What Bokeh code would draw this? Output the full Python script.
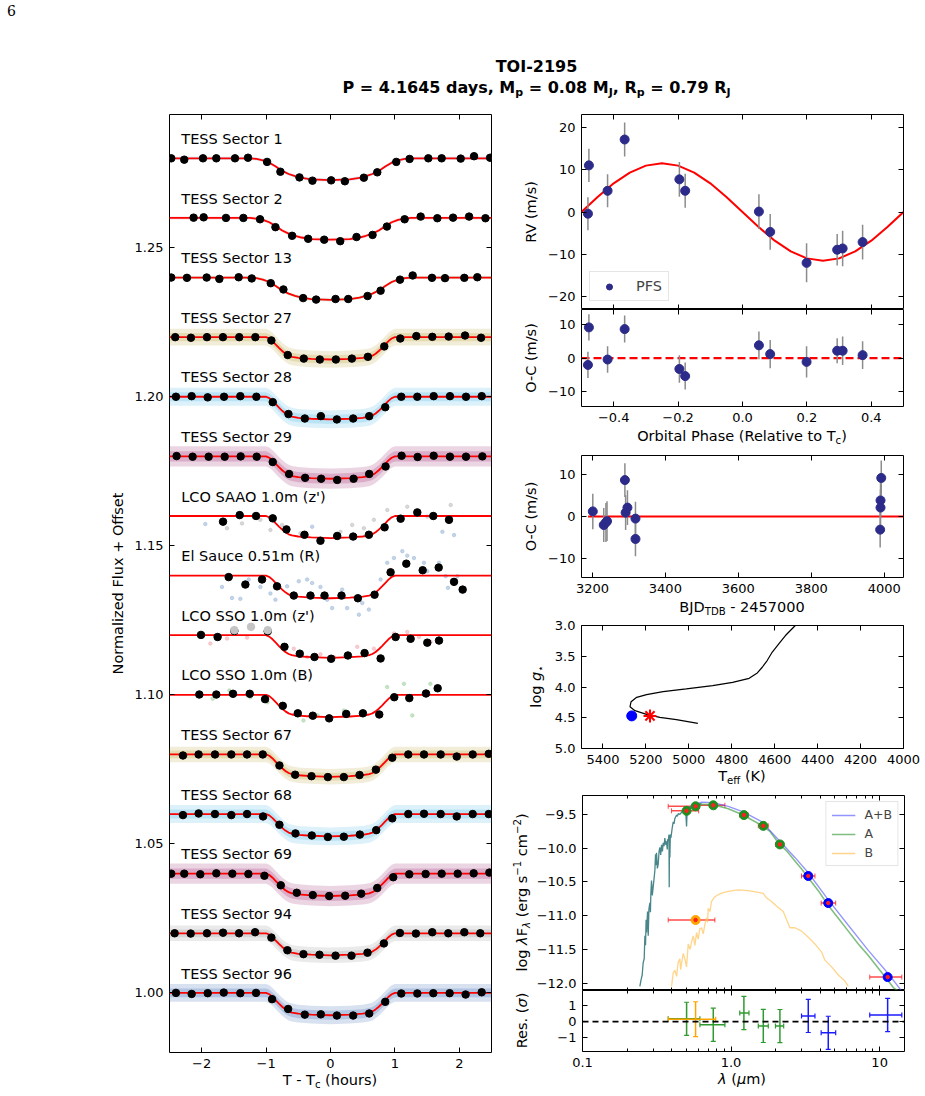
import numpy as np
from bokeh.plotting import figure
from bokeh.models import (Range1d, FixedTicker, LinearAxis, LogAxis, ColumnDataSource,
                          Legend, LegendItem, Whisker, TeeHead, Div)
from bokeh.layouts import column, row
from bokeh.core.properties import value
from bokeh.embed import file_html
from bokeh.resources import INLINE

FONT = "DejaVu Sans"
TICK_FS = "13px"
LAB_FS = 14.5

# ---------------------------------------------------------------- header text
planet_name = "TOI-2195"
period_days = "4.1645"
mass_mj = "0.08"
radius_rj = "0.79"
page_number = "6"

# ---------------------------------------------------------------- transit light curves
# binned points: hours from mid-transit, flux deviation in ppt
s01_t = [-2.473, -2.271, -1.980, -1.773, -1.483, -1.281, -0.985, -0.778, -0.482, -0.280, 0.010,
         0.223, 0.518, 0.726, 1.021, 1.228, 1.519, 1.726, 2.022, 2.229, 2.478]
s01_ppt = [0.0, -0.45, 0.0, 0.0, 0.0, 0.2, -1.2, -4.5, -6.4, -7.5, -7.4, -7.7, -6.5, -4.7, -1.2,
           -0.2, 0.0, 0.0, -0.1, 0.7, 0.2]
s02_t = [-2.126, -1.970, -1.623, -1.353, -1.094, -0.855, -0.596, -0.347, -0.098, 0.151, 0.404,
         0.653, 0.876, 1.151, 1.400, 1.659, 1.903, 2.152, 2.406]
s02_ppt = [0.1, 0.2, 0.0, 0.0, -0.45, -3.1, -6.0, -7.0, -7.3, -7.8, -6.4, -5.7, -2.9, -0.45, 0.45,
           -0.1, 0.1, 0.45, -0.1]
s13_t = [-2.473, -2.229, -1.923, -1.726, -1.426, -1.223, -0.928, -0.731, -0.425, -0.223, 0.078,
         0.275, 0.576, 0.778, 1.079, 1.276, 1.576, 1.778, 2.078, 2.280]
s13_ppt = [0.0, -0.1, 0.0, -0.45, 0.1, -0.3, -1.9, -4.0, -6.9, -7.4, -7.2, -7.2, -6.2, -4.4, -0.7,
           0.7, -0.1, -0.2, -0.1, 0.1]
s27_t = [-2.411, -2.167, -1.918, -1.670, -1.417, -1.167, -0.918, -0.664, -0.415, -0.166, 0.083,
         0.332, 0.581, 0.835, 1.084, 1.333, 1.581, 1.835, 2.089, 2.338]
s27_ppt = [0.0, -0.2, 0.0, 0.0, 0.0, 0.0, -1.1, -6.0, -7.2, -7.5, -7.5, -7.2, -6.6, -3.1, -0.45,
           0.35, 0.1, 0.2, 0.55, -0.2]
s28_t = [-2.400, -2.156, -1.907, -1.653, -1.400, -1.151, -0.897, -0.653, -0.399, -0.150, 0.099,
         0.352, 0.601, 0.850, 1.099, 1.348, 1.602, 1.855, 2.104, 2.348]
s28_ppt = [0.0, 0.2, -0.2, 0.0, 0.2, 0.0, -1.8, -5.8, -7.3, -6.5, -7.6, -7.3, -6.5, -3.5, 0.0,
           0.0, 0.2, 0.2, 0.0, 0.2]
s29_t = [-2.390, -2.141, -1.892, -1.643, -1.395, -1.146, -0.897, -0.643, -0.394, -0.145, 0.104,
         0.358, 0.601, 0.855, 1.104, 1.353, 1.602, 1.855, 2.104, 2.358]
s29_ppt = [0.1, -0.1, -0.1, -0.1, 0.0, -0.1, -1.9, -5.9, -7.2, -7.5, -7.9, -7.5, -5.9, -3.4, 0.2,
           -0.2, 0.2, -0.1, -0.1, 0.0]
saao_t = [-1.669, -1.410, -1.156, -0.897, -0.684, -0.404, -0.156, 0.104, 0.352, 0.596, 0.840,
          1.089, 1.348, 1.596, 1.840]
saao_ppt = [-1.9, 0.3, 0.0, -0.8, -4.5, -6.3, -8.3, -6.7, -6.9, -6.3, -3.8, -0.9, 1.2, 0.0, -1.3]
elsauce_t = [-1.581, -1.322, -1.063, -0.830, -0.570, -0.311, -0.093, 0.171, 0.425, 0.684, 0.933,
             1.177, 1.431, 1.680, 1.918, 2.052]
elsauce_ppt = [-0.5, -3.0, -1.3, -3.6, -6.7, -6.7, -6.7, -6.7, -7.6, -6.4, 1.1, 4.0, 1.8, 2.7,
               -2.1, -4.7]
ssoz_t = [-2.011, -1.753, -1.493, -0.975, -0.715, -0.477, -0.249, 0.010, 0.270, 0.529, 0.778,
          1.011, 1.244, 1.503, 1.685]
ssoz_ppt = [0.1, -0.6, 1.45, 1.3, -3.9, -6.2, -7.3, -7.9, -6.8, -6.0, -7.8, -0.6, -1.2, -2.5, -1.8]
ssoz_excl_t = [-1.493, -1.234, -0.975]
ssoz_excl_ppt = [1.7, 2.8, 1.7]
ssob_t = [-2.037, -1.773, -1.514, -1.254, -1.016, -0.741, -0.508, -0.275, -0.021, 0.244, 0.503,
          0.757, 0.990, 1.224, 1.483, 1.664]
ssob_ppt = [0.1, 0.1, 0.35, 0.35, -1.45, -3.7, -6.2, -7.0, -7.9, -6.4, -6.2, -6.6, -0.8, -1.1,
            0.45, 2.2]
s67_t = [-2.291, -2.048, -1.794, -1.540, -1.296, -1.052, -0.793, -0.549, -0.295, -0.041, 0.207,
         0.451, 0.705, 0.959, 1.208, 1.452, 1.711, 1.960, 2.208, 2.457]
s67_ppt = [-0.35, 0.0, 0.0, 0.0, 0.0, 0.0, -3.7, -6.8, -7.3, -7.6, -7.6, -6.9, -5.1, -1.1, 0.0,
           0.0, 0.0, -0.7, 0.0, 0.2]
s68_t = [-2.291, -2.048, -1.794, -1.540, -1.296, -1.047, -0.793, -0.544, -0.290, -0.041, 0.207,
         0.456, 0.710, 0.959, 1.208, 1.452, 1.711, 1.960, 2.208, 2.457]
s68_ppt = [-0.35, 0.2, 0.0, -0.35, 0.0, -0.8, -3.6, -6.5, -7.2, -7.7, -7.6, -6.9, -5.4, -1.45,
           0.0, 0.1, 0.0, -0.8, 0.0, 0.0]
s69_t = [-2.473, -2.271, -2.022, -1.773, -1.524, -1.275, -1.026, -0.772, -0.524, -0.275, -0.021,
         0.228, 0.477, 0.726, 0.974, 1.223, 1.477, 1.726, 1.975, 2.223, 2.467]
s69_ppt = [0.0, 0.0, -0.2, 0.1, 0.0, -0.1, -0.7, -3.9, -6.4, -7.2, -7.5, -7.4, -6.7, -4.8, -1.2,
           -0.2, -0.1, 0.0, 0.0, 0.1, 0.35]
s94_t = [-2.420, -2.171, -1.918, -1.669, -1.420, -1.171, -0.918, -0.669, -0.420, -0.171, 0.078,
         0.326, 0.575, 0.829, 1.078, 1.326, 1.580, 1.829, 2.078, 2.326]
s94_ppt = [0.0, -0.1, 0.0, 0.2, 0.0, 0.35, -1.45, -5.7, -7.0, -7.2, -7.5, -7.5, -6.5, -3.4, 0.1,
           -0.1, 0.35, 0.0, 0.35, 0.0]
s96_t = [-2.400, -2.156, -1.907, -1.658, -1.400, -1.156, -0.907, -0.658, -0.399, -0.150, 0.099,
         0.352, 0.601, 0.850, 1.099, 1.348, 1.596, 1.850, 2.098, 2.347]
s96_ppt = [0.0, -0.35, -0.1, 0.1, -0.1, 0.0, -2.1, -5.4, -7.3, -7.2, -7.6, -7.6, -6.9, -3.0,
           -0.2, -0.2, -0.1, -0.1, -0.55, 0.2]

# unbinned ground-based photometry (sparse)
saao_raw_gray_t = [-1.607, -1.374, -1.089, -0.933, -0.752, -0.467, 0.155, 0.337, 0.518, 0.674,
                   0.882, 1.192, 1.374, 1.503, 1.866]
saao_raw_gray_ppt = [-4.1, -2.5, -1.3, -4.7, -3.0, -5.8, -5.3, -3.0, -4.1, -1.3, 2.0, 3.1, 1.45,
                     -0.2, 3.7]
saao_raw_blue_t = [-1.944, -0.285, -0.156, 1.737, 1.918]
saao_raw_blue_ppt = [-2.7, -3.6, -8.1, -5.3, -6.4]
elsauce_raw_t = [-1.685, -1.529, -1.400, -1.270, -1.089, -0.933, -0.855, -0.674, -0.493, -0.363,
                 -0.285, -0.156, -0.052, 0.026, 0.181, 0.259, 0.441, 0.493, 0.596, 0.778, 0.881,
                 0.985, 1.115, 1.192, 1.296, 1.451, 1.503, 1.685, 1.789, 1.824, 1.970]
elsauce_raw_ppt = [-3.8, -7.5, -7.8, -1.3, -3.8, -6.0, -8.1, -3.6, -1.9, -1.3, -2.5, -3.8, -8.1,
                   -10.9, -4.7, -10.9, -13.1, -9.2, -11.4, -1.3, 4.3, 5.9, 8.2, 6.7, 5.9, 4.3,
                   1.5, 4.3, -0.2, -4.1, -0.2]
ssoz_raw_t = [-1.866, -1.607, -1.296, -0.570, -0.363, -0.156, 0.052, 0.259, 0.415, 0.674, 0.985,
              1.192, 1.374, 1.555]
ssoz_raw_ppt = [-2.8, -1.1, -0.8, -4.5, -7.3, -6.4, -7.3, -6.7, -3.9, -4.5, 0.6, 1.1, -0.6, -2.2]
ssob_raw_t = [-1.83, -1.57, -1.245, -0.98, -0.73, -0.42, -0.20, 0.21, 0.73, 0.88, 1.14, 1.27, 1.55]
ssob_raw_ppt = [-1.3, 1.45, -0.8, -2.5, -4.1, -8.6, -6.9, -5.3, -6.4, 2.6, 3.7, -6.9, 3.7]

# transit model shape (fraction of full depth) for 30-min and short cadence
model_long_t = [-2.5, -1.25, -1.15, -1.05, -0.95, -0.85, -0.75, -0.65, -0.55, -0.45, -0.3, 0.0,
                0.3, 0.45, 0.55, 0.65, 0.75, 0.85, 0.95, 1.05, 1.15, 1.25, 2.5]
model_long_frac = [0, 0, 0.03, 0.09, 0.2, 0.38, 0.58, 0.72, 0.82, 0.9, 0.97, 1.0, 0.97, 0.9, 0.82,
                   0.72, 0.58, 0.38, 0.2, 0.09, 0.03, 0, 0]
model_short_t = [-2.5, -1.0, -0.95, -0.9, -0.85, -0.8, -0.75, -0.7, -0.65, -0.6, -0.5, -0.3, 0.0,
                 0.3, 0.5, 0.6, 0.65, 0.7, 0.75, 0.8, 0.85, 0.9, 0.95, 1.0, 2.5]
model_short_frac = [0, 0, 0.06, 0.18, 0.33, 0.48, 0.62, 0.74, 0.83, 0.88, 0.93, 0.97, 1.0, 0.97,
                    0.93, 0.88, 0.83, 0.74, 0.62, 0.48, 0.33, 0.18, 0.06, 0, 0]

lc_names = ["TESS Sector 1", "TESS Sector 2", "TESS Sector 13", "TESS Sector 27",
            "TESS Sector 28", "TESS Sector 29", "LCO SAAO 1.0m (z')", "El Sauce 0.51m (R)",
            "LCO SSO 1.0m (z')", "LCO SSO 1.0m (B)", "TESS Sector 67", "TESS Sector 68",
            "TESS Sector 69", "TESS Sector 94", "TESS Sector 96"]
lc_offsets = [1.28, 1.26, 1.24, 1.22, 1.20, 1.18, 1.16, 1.14, 1.12, 1.10, 1.08, 1.06, 1.04, 1.02,
              1.00]
lc_depth_ppt = [7.3, 7.3, 7.5, 7.5, 7.6, 7.5, 7.4, 7.6, 7.6, 7.5, 7.5, 7.5, 7.5, 7.4, 7.5]
lc_binned_t = [s01_t, s02_t, s13_t, s27_t, s28_t, s29_t, saao_t, elsauce_t, ssoz_t, ssob_t,
               s67_t, s68_t, s69_t, s94_t, s96_t]
lc_binned_ppt = [s01_ppt, s02_ppt, s13_ppt, s27_ppt, s28_ppt, s29_ppt, saao_ppt, elsauce_ppt,
                 ssoz_ppt, ssob_ppt, s67_ppt, s68_ppt, s69_ppt, s94_ppt, s96_ppt]
lc_long_cadence = [True, True, True] + [False] * 12
lc_colors = ["#8fb8de", "#f2a0aa", "#97cc97", "#c8b45a", "#6cc6ec", "#b0508a", None, None, None,
             None, "#c8b45a", "#6cc6ec", "#b0508a", "#a8a8a8", "#5a82bf"]
lc_spread_ppt = [0.6, 0.6, 0.6, 2.8, 3.0, 3.4, 0, 0, 0, 0, 2.6, 3.0, 3.4, 2.6, 3.0]
lc_raw = {6: [(saao_raw_gray_t, saao_raw_gray_ppt, "#c4c4c4"),
              (saao_raw_blue_t, saao_raw_blue_ppt, "#a6bfdc")],
          7: [(elsauce_raw_t, elsauce_raw_ppt, "#a6bfdc")],
          8: [(ssoz_raw_t, ssoz_raw_ppt, "#f5b3ba")],
          9: [(ssob_raw_t, ssob_raw_ppt, "#a9d6a9")]}

# ---------------------------------------------------------------- radial velocities
rv_phase = [-0.480, -0.477, -0.419, -0.366, -0.196, -0.178, 0.051, 0.086, 0.199, 0.294, 0.311,
            0.373]
rv_val = [-0.4, 11.0, 5.0, 17.1, 7.7, 5.0, 0.1, -4.7, -12.0, -8.9, -8.6, -7.1]
rv_err = [3.9, 3.9, 3.9, 4.0, 4.1, 4.0, 4.1, 4.2, 4.6, 3.7, 4.2, 4.1]
rv_resid = [-2.0, 9.1, -0.4, 8.6, -3.2, -5.3, 3.8, 1.2, -1.1, 2.2, 2.2, 0.9]
rv_model_phase = [-0.5, -0.45, -0.4, -0.35, -0.3, -0.25, -0.2, -0.15, -0.1, -0.05, 0.0, 0.05, 0.1,
                  0.15, 0.2, 0.25, 0.3, 0.35, 0.4, 0.45, 0.5]
rv_model_val = [0.0, 3.55, 6.76, 9.30, 10.94, 11.5, 10.94, 9.30, 6.76, 3.55, 0.0, -3.55, -6.76,
                -9.30, -10.94, -11.5, -10.94, -9.30, -6.76, -3.55, 0.0]
oc_bjd = [3201, 3231, 3237, 3240, 3289, 3291, 3296, 3318, 3318, 3992, 3990, 3990, 3989]
oc_val = [1.2, -2.0, -1.4, -1.1, 8.6, 0.9, 2.1, -0.5, -5.3, 9.1, 3.8, 2.1, -3.1]
oc_err = [4.2, 4.0, 4.6, 4.7, 4.0, 4.1, 4.1, 4.0, 4.1, 4.1, 4.2, 4.3, 4.2]
oc_zero_span = [3188, 4060]

# ---------------------------------------------------------------- HR diagram
track_teff = [4958, 5058, 5135, 5197, 5251, 5274, 5269, 5243, 5197, 5120, 5012, 4889, 4796, 4719,
              4681, 4658, 4635, 4612, 4581, 4550, 4504, 4480]
track_logg = [4.592, 4.53, 4.494, 4.445, 4.385, 4.320, 4.239, 4.168, 4.125, 4.076, 4.032, 3.978,
              3.924, 3.859, 3.771, 3.679, 3.570, 3.435, 3.299, 3.163, 3.0, 2.88]
star_teff, star_logg = [5266], [4.47]
model_teff, model_logg = [5181], [4.47]

# ---------------------------------------------------------------- SED
sed_uv_lam = [0.2432, 0.2480, 0.2522, 0.2560, 0.2602, 0.2630, 0.2656, 0.2680, 0.2698, 0.2741,
              0.2769, 0.2800, 0.2841, 0.2865, 0.2885, 0.2915, 0.2950, 0.2992, 0.3039, 0.3070,
              0.3102, 0.3130, 0.3150, 0.3190, 0.3233, 0.3275, 0.3318, 0.3360, 0.3404, 0.3450,
              0.3493, 0.3540, 0.3584, 0.3630, 0.3679, 0.3720, 0.3740, 0.3775, 0.3820, 0.3834,
              0.3850, 0.3875, 0.3900, 0.3935, 0.4017, 0.4079, 0.4130, 0.4186, 0.4295, 0.4350,
              0.4408, 0.4523, 0.4642, 0.4764, 0.4888, 0.4950, 0.5016, 0.5068, 0.5282, 0.5564,
              0.5856, 0.6329]
sed_uv_logf = [-12.05, -11.95, -11.88, -11.70, -11.64, -11.30, -11.44, -11.06, -11.25, -10.94,
               -11.30, -10.90, -10.81, -10.95, -10.67, -10.48, -10.70, -10.57, -10.43, -10.33,
               -10.09, -10.25, -10.07, -10.30, -10.24, -10.05, -9.99, -10.10, -9.95, -10.05,
               -9.92, -9.97, -9.85, -9.95, -9.90, -10.02, -9.87, -9.90, -9.80, -10.58,
               -9.82, -10.14, -9.80, -9.85, -9.70, -9.61, -9.64, -9.56, -9.51, -9.53,
               -9.49, -9.50, -9.47, -9.44, -9.42, -9.44, -9.68, -9.42, -9.41, -9.38,
               -9.36, -9.34]
sed_a_lam = [0.5016, 0.5564, 0.6329, 0.7583, 0.957, 1.208, 1.374, 1.605, 1.826, 2.078, 2.364,
             2.690, 2.984, 3.308, 3.864, 4.512, 5.270, 6.152, 7.184, 8.389, 9.795, 11.44, 12.4,
             14.1]
sed_a_logf = [-9.42, -9.39, -9.35, -9.355, -9.415, -9.51, -9.58, -9.66, -9.75, -9.92, -10.04,
              -10.19, -10.31, -10.44, -10.63, -10.85, -11.04, -11.23, -11.42, -11.59, -11.78,
              -11.97, -12.07, -12.15]
sed_ab_lam = [0.5148, 0.6329, 0.7583, 0.957, 1.208, 1.605, 2.078, 2.690, 3.308, 4.512, 6.152,
              8.389, 11.44, 14.07]
sed_ab_logf = [-9.398, -9.317, -9.327, -9.38, -9.462, -9.607, -9.872, -10.138, -10.365, -10.766,
               -11.143, -11.515, -11.862, -12.118]
sed_b_lam = [0.3975, 0.4080, 0.4186, 0.4300, 0.4400, 0.4523, 0.4580, 0.4642, 0.4764, 0.4900,
             0.5016, 0.5148, 0.5300, 0.5420, 0.5564, 0.5708, 0.5856, 0.6011, 0.6150, 0.6329,
             0.6494, 0.6664, 0.6839, 0.6950, 0.7018, 0.7202, 0.7390, 0.7782, 0.8196, 0.8858,
             0.9570, 1.1176, 1.3050, 1.5241, 1.6467, 1.7340, 1.8740, 2.0253, 2.2453, 2.4894,
             2.6906, 2.9836, 3.3082, 3.6682, 4.0673, 4.2824, 4.7521, 5.2696, 5.8415, 6.1518]
sed_b_logf = [-12.05, -11.85, -11.81, -11.90, -11.70, -11.64, -11.80, -11.71, -11.56, -11.65,
              -11.76, -11.42, -11.50, -11.39, -11.30, -11.44, -11.25, -11.35, -11.20, -11.18,
              -11.27, -11.13, -11.03, -11.10, -10.89, -10.94, -10.79, -10.72, -10.69, -10.66,
              -10.64, -10.62, -10.63, -10.655, -10.67, -10.74, -10.79, -10.86, -10.94, -11.18,
              -11.18, -11.23, -11.32, -11.42, -11.54, -11.66, -11.76, -11.88, -11.97, -12.05]
phot_lam = [0.502, 0.577, 0.759, 1.220, 1.648, 2.132, 3.308, 4.510, 11.32]
phot_logf = [-9.447, -9.380, -9.365, -9.510, -9.670, -9.945, -10.413, -10.814, -11.911]
phot_lo = [0.3975, 0.3775, 0.605, 1.144, 1.525, 1.99, 2.98, 4.04, 8.58]
phot_hi = [0.605, 0.605, 0.909, 1.306, 1.780, 2.26, 3.67, 5.06, 14.1]
phot_band_kind = ["opt", "opt", "opt", "nir", "nir", "nir", "wise", "wise", "wise"]
photb_lam, photb_logf, photb_lo, photb_hi = [0.577], [-11.065], [0.3775], [0.778]
res_lam = [0.502, 0.759, 1.220, 1.648, 2.132, 3.308, 4.510, 11.32]
res_val = [0.17, -0.20, 0.53, -0.27, -0.28, 0.35, -0.70, 0.41]
res_lo = [0.3775, 0.617, 1.144, 1.525, 1.99, 2.98, 4.04, 8.58]
res_hi = [0.617, 0.909, 1.32, 1.78, 2.26, 3.67, 5.06, 14.1]
res_err = [1.03, 1.03, 1.03, 1.03, 1.03, 1.03, 1.03, 1.03]
res_kind = ["opt", "opt", "nir", "nir", "nir", "wise", "wise", "wise"]
resb_lam, resb_val, resb_lo, resb_hi, resb_err = [0.577], [0.15], [0.3775], [0.788], [1.08]

# ---------------------------------------------------------------- helpers
SUB = '<sub style="font-size:70%;vertical-align:-3px;line-height:0;">{}</sub>'
SUP = '<sup style="font-size:70%;vertical-align:6px;line-height:0;">{}</sup>'
TEXT_CSS = (f"font-family:'{FONT}';font-size:{LAB_FS}px;line-height:{LAB_FS}px;"
            "color:black;white-space:nowrap;")
BASE = 0.85 * LAB_FS   # baseline offset below the top of a one-line box


def caption(width, height, html, cx, baseline):
    """Horizontal axis caption centred on cx, baseline `baseline` px below the top."""
    inner = (f'<div style="position:absolute;left:{cx - 170:.1f}px;top:{baseline - BASE:.1f}px;'
             f'width:340px;text-align:center;{TEXT_CSS}">{html}</div>')
    return Div(text=f'<div style="position:relative;width:{width}px;height:{height}px;">'
                    f'{inner}</div>', width=width, height=height, margin=(0, 0, 0, 0))


def vcaption(width, height, items):
    """Rotated (bottom-to-top) captions: (html, baseline x, centre y from top)."""
    blocks = []
    for html, bx, cy in items:
        span = 2 * min(cy, height - cy)
        blocks.append(
            f'<div style="position:absolute;left:{bx - BASE:.1f}px;top:{cy + span / 2:.1f}px;'
            f'width:{span:.1f}px;height:{LAB_FS}px;text-align:center;transform-origin:0 0;'
            f'transform:rotate(-90deg);{TEXT_CSS}">{html}</div>')
    return Div(text=f'<div style="position:relative;width:{width}px;height:{height}px;">'
                    + "".join(blocks) + '</div>', width=width, height=height,
               margin=(0, 0, 0, 0))


def style_axis(ax, ticks, labels, show, minor=None):
    ax.ticker = FixedTicker(ticks=list(ticks), minor_ticks=list(minor or []))
    ax.axis_line_color = None
    ax.major_tick_in = 5
    ax.major_tick_out = 0
    ax.major_tick_line_color = "black"
    ax.major_tick_line_width = 1
    ax.minor_tick_in = 3 if minor else 0
    ax.minor_tick_out = 0
    ax.minor_tick_line_color = "black"
    ax.major_label_text_font = FONT
    if show:
        ax.major_label_overrides = {t: s for t, s in zip(ticks, labels)}
        ax.major_label_text_font_size = TICK_FS
        ax.major_label_text_color = "black"
        ax.major_label_standoff = 6
    else:
        ax.major_label_text_font_size = "0px"
        ax.major_label_text_color = None
        ax.major_label_standoff = 0
    ax.axis_label_text_font = FONT
    ax.axis_label_text_font_style = "normal"
    ax.axis_label_text_font_size = f"{LAB_FS}px"
    ax.axis_label_text_color = "black"
    ax.axis_label_standoff = 6


def boxed(p, xt, xl, yt, yl, show_x=True, show_y=True, x_minor=None, log_x=False, ylabel=None):
    bottom, left_ax = p.below[0], p.left[0]
    top = LogAxis() if log_x else LinearAxis()
    right_ax = LinearAxis()
    p.add_layout(top, "above")
    p.add_layout(right_ax, "right")
    style_axis(bottom, xt, xl, show_x, x_minor)
    style_axis(top, xt, xl, False, x_minor)
    style_axis(left_ax, yt, yl, show_y)
    style_axis(right_ax, yt, yl, False)
    if ylabel:
        left_ax.axis_label = ylabel


def panel(fw, fh, left, right, top, bottom, xr, yr, log_x=False):
    p = figure(frame_width=fw, frame_height=fh, min_border_left=left, min_border_right=right,
               min_border_top=top, min_border_bottom=bottom, x_range=xr, y_range=yr,
               x_axis_type="log" if log_x else "linear", toolbar_location=None,
               output_backend="svg")
    p.grid.visible = False
    p.outline_line_color = "black"
    p.outline_line_width = 1
    p.background_fill_color = "white"
    p.border_fill_color = "white"
    return p


def minus(s):
    return s.replace("-", "\u2212")


# ---------------------------------------------------------------- left: light curves
lc = panel(322, 938, 169, 2, 10, 22, Range1d(-2.5, 2.5), Range1d(0.98, 1.2947))
lc_xt = [-2, -1, 0, 1, 2]
lc_yt = [1.00, 1.05, 1.10, 1.15, 1.20, 1.25]
boxed(lc, lc_xt, [minus(str(v)) for v in lc_xt], lc_yt, [f"{v:.2f}" for v in lc_yt],
      ylabel="Normalized Flux + Offset")

for i, name in enumerate(lc_names):
    off = lc_offsets[i]
    mt = model_long_t if lc_long_cadence[i] else model_short_t
    mf = np.array(model_long_frac if lc_long_cadence[i] else model_short_frac)
    model = off - lc_depth_ppt[i] * mf / 1000.0
    col = lc_colors[i]
    if col is not None:
        w = lc_spread_ppt[i] / 1000.0
        lc.varea(x=mt, y1=model - w, y2=model + w, fill_color=col, fill_alpha=0.24)
        lc.varea(x=mt, y1=model - 0.5 * w, y2=model + 0.5 * w, fill_color=col, fill_alpha=0.3)
    for rt, rp, rc in lc_raw.get(i, []):
        lc.scatter(rt, off + np.array(rp) / 1000.0, size=3.5, color=rc, alpha=0.65)
    lc.line(mt, model, line_color="red", line_width=1.8)
    lc.scatter(lc_binned_t[i], off + np.array(lc_binned_ppt[i]) / 1000.0, size=7.5,
               color="black")
    if i == 8:
        lc.scatter(ssoz_excl_t, off + np.array(ssoz_excl_ppt) / 1000.0, size=7.5,
                   color="#c4c4c4")

lc.text(x=[-2.317] * len(lc_names), y=[o + 0.0065 for o in lc_offsets], text=lc_names,
        text_font=value(FONT), text_font_size="14.5px", text_baseline="middle",
        text_align="left", text_color="black")
lc_cap = caption(493, 22, "T - T" + SUB.format("c") + " (hours)", 330, 11)

# ---------------------------------------------------------------- RV vs phase
RV_POINT = "#2c2b89"
ERR_GREY = "#8c8c8c"
ph_xt = [-0.4, -0.2, 0.0, 0.2, 0.4]
ph_xl = ["\u22120.4", "\u22120.2", "0.0", "0.2", "0.4"]

rv = panel(322, 195, 88, 22, 10, 0, Range1d(-0.5, 0.5), Range1d(-23, 23))
rv_yt = [-20, -10, 0, 10, 20]
boxed(rv, ph_xt, ph_xl, rv_yt, [minus(str(v)) for v in rv_yt], show_x=False, ylabel="RV (m/s)")
rv_src = ColumnDataSource(dict(x=rv_phase, y=rv_val,
                               lo=[v - e for v, e in zip(rv_val, rv_err)],
                               hi=[v + e for v, e in zip(rv_val, rv_err)]))
rv.line(rv_model_phase, rv_model_val, line_color="red", line_width=2)
rv.segment(x0="x", y0="lo", x1="x", y1="hi", source=rv_src, line_color=ERR_GREY, line_width=1.5)
rv_pts = rv.scatter("x", "y", source=rv_src, size=9, color=RV_POINT)
rv_leg = Legend(items=[LegendItem(label="PFS", renderers=[rv_pts])], location="bottom_left",
                label_text_font=FONT, label_text_font_size="14.5px", border_line_color="#cccccc",
                border_line_width=1, background_fill_alpha=0.8, padding=6, margin=8,
                glyph_width=26, glyph_height=15, label_height=15, label_standoff=14)
rv.add_layout(rv_leg)

# ---------------------------------------------------------------- O-C vs phase
oc = panel(322, 97, 88, 22, 0, 22, Range1d(-0.5, 0.5), Range1d(-14.3, 14.4))
oc_yt = [-10, 0, 10]
boxed(oc, ph_xt, ph_xl, oc_yt, [minus(str(v)) for v in oc_yt], ylabel="O-C (m/s)")
oc_src = ColumnDataSource(dict(x=rv_phase, y=rv_resid,
                               lo=[v - e for v, e in zip(rv_resid, rv_err)],
                               hi=[v + e for v, e in zip(rv_resid, rv_err)]))
oc.line([-0.5, 0.5], [0, 0], line_color="red", line_width=2.2, line_dash="8 4")
oc.segment(x0="x", y0="lo", x1="x", y1="hi", source=oc_src, line_color=ERR_GREY, line_width=1.5)
oc.scatter("x", "y", source=oc_src, size=9, color=RV_POINT)
oc_cap = caption(432, 18, "Orbital Phase (Relative to T" + SUB.format("c") + ")", 249, 13)

# ---------------------------------------------------------------- O-C vs time
ot = panel(322, 122, 88, 22, 9, 20, Range1d(3170, 4053), Range1d(-14.4, 14.4))
ot_xt = [3200, 3400, 3600, 3800, 4000]
boxed(ot, ot_xt, [str(v) for v in ot_xt], oc_yt, [minus(str(v)) for v in oc_yt],
      ylabel="O-C (m/s)")
ot_src = ColumnDataSource(dict(x=oc_bjd, y=oc_val,
                               lo=[v - e for v, e in zip(oc_val, oc_err)],
                               hi=[v + e for v, e in zip(oc_val, oc_err)]))
ot.line(oc_zero_span, [0, 0], line_color="red", line_width=2.2)
ot.segment(x0="x", y0="lo", x1="x", y1="hi", source=ot_src, line_color=ERR_GREY, line_width=1.5)
ot.scatter("x", "y", source=ot_src, size=9, color=RV_POINT)
ot_cap = caption(432, 20, "BJD" + SUB.format("TDB") + " - 2457000", 249, 15)

# ---------------------------------------------------------------- HR diagram
hr = panel(322, 123, 34, 22, 8, 22, Range1d(5500, 4000), Range1d(5.0, 3.0))
hr_xt = [5400, 5200, 5000, 4800, 4600, 4400, 4200, 4000]
hr_yt = [3.0, 3.5, 4.0, 4.5, 5.0]
boxed(hr, hr_xt, [str(v) for v in hr_xt], hr_yt, [f"{v:.1f}" for v in hr_yt])
hr.line(track_teff, track_logg, line_color="black", line_width=1.2)
hr.scatter(star_teff, star_logg, size=10, color="#0000ff")
hr.scatter(model_teff, model_logg, marker="asterisk", size=13, line_color="red", line_width=2)
hr.scatter(model_teff, model_logg, marker="cross", size=9, line_color="red", line_width=1.5)
hr_cap = caption(378, 15, "T" + SUB.format("eff") + " (K)", 195, 11)
hr_ycap = vcaption(54, 168, [("log <i>g</i>" + SUB.format("\u22c6"), 48.5, 69.5)])

# ---------------------------------------------------------------- SED
LAM_RANGE = (0.1, 14.7)
lam_xt = [0.1, 1, 10]
lam_xl = ["0.1", "1.0", "10"]
lam_minor = [0.2, 0.3, 0.4, 0.5, 0.6, 0.7, 0.8, 0.9, 2, 3, 4, 5, 6, 7, 8, 9]
KIND_COLOR = {"opt": "#1f8f1f", "nir": "#1f8f1f", "wise": "#0000ff"}
RES_COLOR = {"opt": "#2f9a2f", "nir": "#2f9a2f", "wise": "#1a1aff"}

# a little headroom below -12.0 keeps its tick label inside the canvas
sed = panel(322, 195, 48, 22, 10, 0, Range1d(*LAM_RANGE), Range1d(-12.11, -9.22), log_x=True)
sed_yt = [-12.0, -11.5, -11.0, -10.5, -10.0, -9.5]
boxed(sed, lam_xt, lam_xl, sed_yt, [minus(f"{v:.1f}") for v in sed_yt], show_x=False,
      x_minor=lam_minor, log_x=True)
r_b = sed.line(sed_b_lam, sed_b_logf, line_color="#ffc35a", line_alpha=0.7, line_width=1.3)
sed.line(sed_uv_lam, sed_uv_logf, line_color="#3e7f84", line_width=1.3, line_alpha=0.95)
r_a = sed.line(sed_a_lam, sed_a_logf, line_color="#3c9d3c", line_alpha=0.65, line_width=1.6)
r_ab = sed.line(sed_ab_lam, sed_ab_logf, line_color="#4d4dff", line_alpha=0.6, line_width=1.3)
sed.scatter(phot_lam, phot_logf, size=9, color=[KIND_COLOR[k] for k in phot_band_kind])
sed.scatter(photb_lam, photb_logf, size=9, color="#ffa500")
ph_src = ColumnDataSource(dict(x=phot_lam + photb_lam, y=phot_logf + photb_logf,
                               lo=phot_lo + photb_lo, hi=phot_hi + photb_hi))
sed.add_layout(Whisker(source=ph_src, base="y", lower="lo", upper="hi", dimension="width",
                       line_color="#ff2020", line_alpha=0.8, line_width=1.5,
                       upper_head=TeeHead(size=5, line_color="#ff2020", line_alpha=0.8),
                       lower_head=TeeHead(size=5, line_color="#ff2020", line_alpha=0.8)))
sed.scatter(phot_lam + photb_lam, phot_logf + photb_logf, size=3.5, color="#ff2020")
sed_leg = Legend(items=[LegendItem(label="A+B", renderers=[r_ab]),
                        LegendItem(label="A", renderers=[r_a]),
                        LegendItem(label="B", renderers=[r_b])],
                 location="top_right", label_text_font=FONT, label_text_font_size="12.5px",
                 border_line_color="#cccccc", border_line_width=1, background_fill_alpha=0.8,
                 padding=5, margin=6, spacing=4, glyph_width=24, glyph_height=14,
                 label_height=14, label_standoff=9)
sed.add_layout(sed_leg)

# ---------------------------------------------------------------- SED residuals
res = panel(322, 61, 48, 22, 0, 22, Range1d(*LAM_RANGE), Range1d(-1.86, 1.93), log_x=True)
res_yt = [-1, 0, 1]
boxed(res, lam_xt, lam_xl, res_yt, [minus(str(v)) for v in res_yt], x_minor=lam_minor,
      log_x=True)
res.line(list(LAM_RANGE), [0, 0], line_color="black", line_width=1.8, line_dash="6 4")


def cross(p, lam, val, lo, hi, err, color):
    src = ColumnDataSource(dict(x=lam, y=val, lo=lo, hi=hi,
                                ylo=[v - e for v, e in zip(val, err)],
                                yhi=[v + e for v, e in zip(val, err)]))
    for base, lower, upper, dim in (("y", "lo", "hi", "width"), ("x", "ylo", "yhi", "height")):
        p.add_layout(Whisker(source=src, base=base, lower=lower, upper=upper, dimension=dim,
                             line_color=color, line_width=1.5,
                             upper_head=TeeHead(size=5, line_color=color, line_width=1.2),
                             lower_head=TeeHead(size=5, line_color=color, line_width=1.2)))


for kind in ("opt", "nir", "wise"):
    idx = [i for i, k in enumerate(res_kind) if k == kind]
    cross(res, [res_lam[i] for i in idx], [res_val[i] for i in idx], [res_lo[i] for i in idx],
          [res_hi[i] for i in idx], [res_err[i] for i in idx], RES_COLOR[kind])
cross(res, resb_lam, resb_val, resb_lo, resb_hi, resb_err, "#ffa500")
res_cap = caption(392, 23, "<i>\u03bb</i> (<i>\u03bc</i>m)", 209, 11)
sed_ycap = vcaption(40, 311, [
    ("log <i>\u03bb</i>F" + SUB.format("<i>\u03bb</i>") + " (erg s" + SUP.format("\u22121")
     + " cm" + SUP.format("\u22122") + ")", 34, 107.5),
    ("Res. (<i>\u03c3</i>)", 34, 235.5)])

# ---------------------------------------------------------------- header
sub_t = '<sub style="font-size:11px;vertical-align:-3px;line-height:0;">{}</sub>'
header_html = (
    '<div style="position:relative;width:925px;height:104px;">'
    '<div style="position:absolute;left:7px;top:4px;font-family:\'DejaVu Serif\',serif;'
    f'font-size:14px;line-height:14px;color:black;">{page_number}</div>'
    '<div style="position:absolute;left:148px;top:56px;width:777px;text-align:center;'
    f'font-family:\'{FONT}\';font-weight:bold;font-size:16px;line-height:21px;color:black;">'
    f'{planet_name}<br>P = {period_days} days, M{sub_t.format("p")} = {mass_mj} '
    f'M{sub_t.format("J")}, R{sub_t.format("p")} = {radius_rj} R{sub_t.format("J")}'
    '</div></div>')
header = Div(text=header_html, width=925, height=104, margin=(0, 0, 0, 0))

left_col = column(lc, lc_cap)
right_col = column(rv, oc, oc_cap, ot, ot_cap,
                   row(hr_ycap, column(hr, hr_cap)),
                   row(sed_ycap, column(sed, res, res_cap)))
layout = column(header, row(left_col, right_col))
open("out.html", "w").write(file_html(layout, INLINE, title=planet_name))
